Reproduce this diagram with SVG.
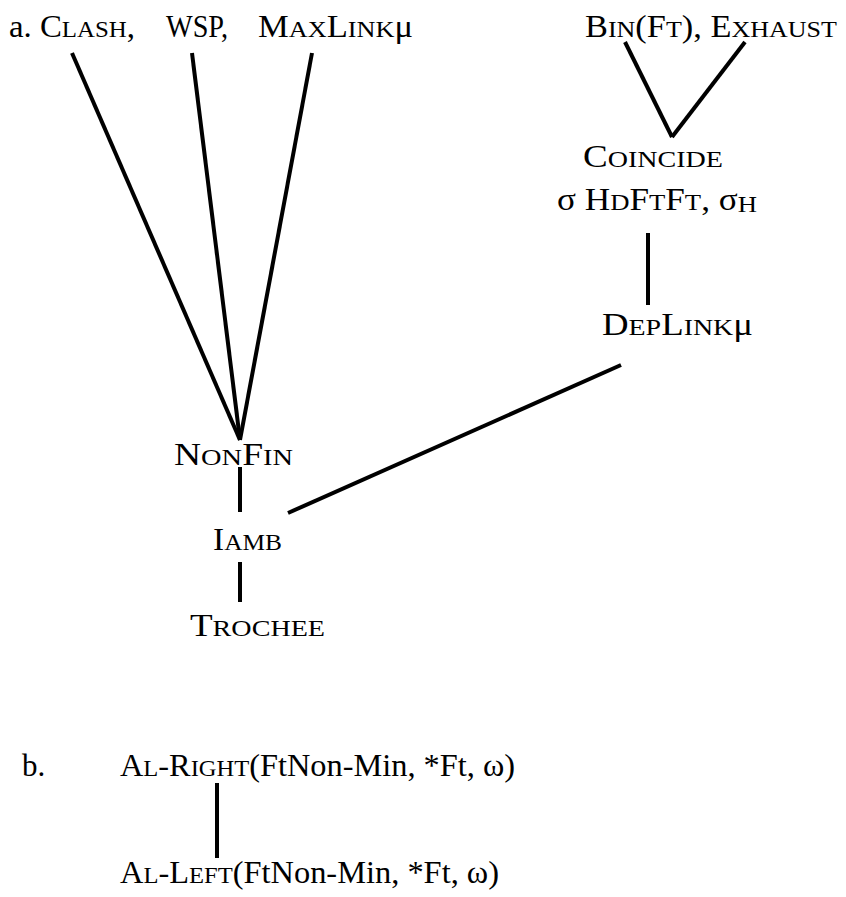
<svg xmlns="http://www.w3.org/2000/svg" width="846" height="897" viewBox="0 0 846 897">
<style>
  text { font-family: "Liberation Serif", "Times New Roman", serif; font-size: 31px; fill: #000; }
  .sc { font-size: 23.5px; }
  .edge { stroke: #000; stroke-width: 4; stroke-linecap: butt; fill: none; }
</style>
<rect width="846" height="897" fill="#fff"/>
<g id="connectors">
  <line class="edge" x1="72" y1="53" x2="240" y2="440"/>
  <line class="edge" x1="192" y1="53" x2="240" y2="440"/>
  <line class="edge" x1="312" y1="53" x2="240" y2="440"/>
  <line class="edge" x1="625" y1="42" x2="672" y2="137"/>
  <line class="edge" x1="745" y1="42" x2="672" y2="137"/>
  <line class="edge" x1="648" y1="233" x2="648" y2="305"/>
  <line class="edge" x1="621" y1="365" x2="288" y2="513"/>
  <line class="edge" x1="240" y1="467" x2="240" y2="512"/>
  <line class="edge" x1="240" y1="562" x2="240" y2="602"/>
  <line class="edge" x1="217" y1="783" x2="217" y2="858"/>
</g>
<g id="clash"><text x="9" y="37" textLength="126" lengthAdjust="spacingAndGlyphs">a. C<tspan class="sc">LASH</tspan>,</text></g>
<g id="wsp"><text x="166" y="37" textLength="62" lengthAdjust="spacingAndGlyphs">WSP,</text></g>
<g id="maxlink"><text x="258" y="37" textLength="155" lengthAdjust="spacingAndGlyphs">M<tspan class="sc">AX</tspan>L<tspan class="sc">INK</tspan>μ</text></g>
<g id="bin-exhaust"><text x="585" y="37" textLength="252" lengthAdjust="spacingAndGlyphs">B<tspan class="sc">IN</tspan>(F<tspan class="sc">T</tspan>), E<tspan class="sc">XHAUST</tspan></text></g>
<g id="coincide"><text x="583" y="167" textLength="140" lengthAdjust="spacingAndGlyphs">C<tspan class="sc">OINCIDE</tspan></text></g>
<g id="hdftft"><text x="557" y="210" textLength="200" lengthAdjust="spacingAndGlyphs">σ H<tspan class="sc">D</tspan>F<tspan class="sc">T</tspan>F<tspan class="sc">T</tspan>, σ<tspan class="sc" dy="2">H</tspan></text></g>
<g id="deplink"><text x="602" y="335" textLength="151" lengthAdjust="spacingAndGlyphs">D<tspan class="sc">EP</tspan>L<tspan class="sc">INK</tspan>μ</text></g>
<g id="nonfin"><text x="174" y="465" textLength="119" lengthAdjust="spacingAndGlyphs">N<tspan class="sc">ON</tspan>F<tspan class="sc">IN</tspan></text></g>
<g id="iamb"><text x="213" y="550" textLength="69" lengthAdjust="spacingAndGlyphs">I<tspan class="sc">AMB</tspan></text></g>
<g id="trochee"><text x="190" y="636" textLength="135" lengthAdjust="spacingAndGlyphs">T<tspan class="sc">ROCHEE</tspan></text></g>
<g id="label-b"><text x="22" y="776">b.</text></g>
<g id="al-right"><text x="120" y="776" textLength="395" lengthAdjust="spacingAndGlyphs">A<tspan class="sc">L</tspan>-R<tspan class="sc">IGHT</tspan>(FtNon-Min, *Ft, ω)</text></g>
<g id="al-left"><text x="120" y="883" textLength="379" lengthAdjust="spacingAndGlyphs">A<tspan class="sc">L</tspan>-L<tspan class="sc">EFT</tspan>(FtNon-Min, *Ft, ω)</text></g>
</svg>
